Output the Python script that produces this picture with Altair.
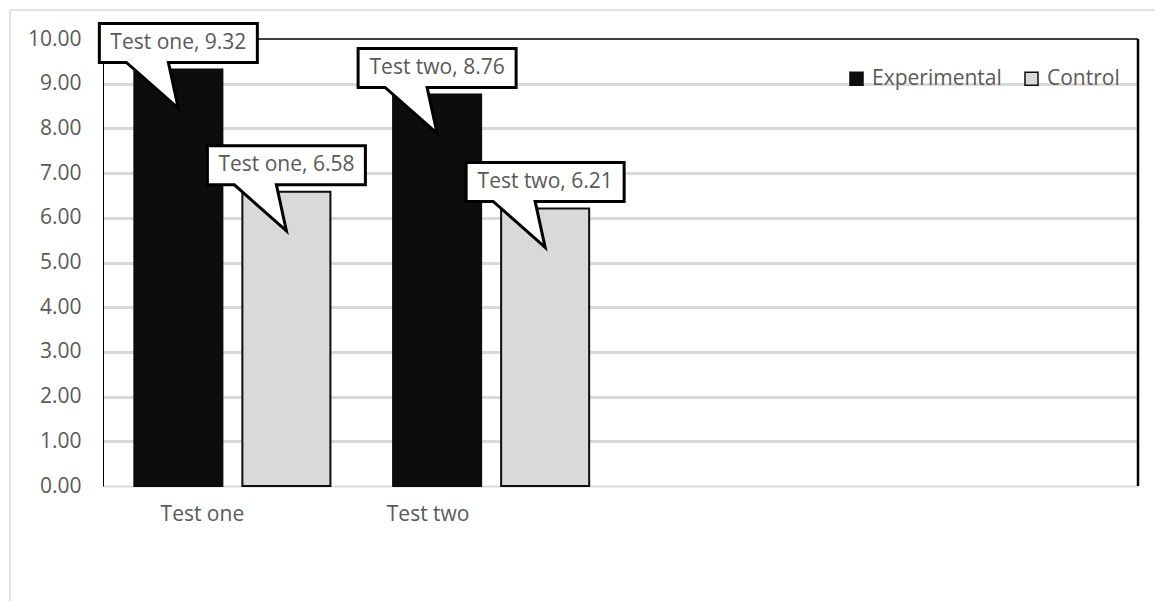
import altair as alt
import pandas as pd

categories = ["Test one", "Test one", "Test two", "Test two"]
series = ["Experimental", "Control", "Experimental", "Control"]
values = [9.32, 6.58, 8.76, 6.21]
x_domain = ["Test one", "Test two", "  ", "   "]
series_order = ["Experimental", "Control"]
series_colors = ["#0d0d0d", "#d9d9d9"]
y_ticks = [0, 1, 2, 3, 4, 5, 6, 7, 8, 9, 10]

df = pd.DataFrame({"cat": categories, "series": series, "value": values})
df["label"] = [f"{c}, {v:.2f}" for c, v in zip(categories, values)]

W, H = 1035, 447
FONT = "Open Sans"
GRAY_TXT = "#595959"
FS = 21

# callout shape (box + pointer) anchored at the bar top, pixel units (size=4 -> scale 1)
CALLOUT = "M0,39 L-10,-7 L79,-7 L79,-46 L-79,-46 L-79,-7 L-52,-7 Z"

x_enc = alt.X("cat:N", scale=alt.Scale(domain=x_domain, paddingInner=0, paddingOuter=0),
              sort=x_domain,
              axis=alt.Axis(title=None, ticks=False, labelAngle=0, labelFont=FONT, labelFontSize=FS,
                            labelColor=GRAY_TXT, labelPadding=17, labelBaseline="top",
                            domainColor="#d9d9d9", domainWidth=2,
                            labelOffset={"condition": {"test": "datum.value == 'Test one'", "value": -30},
                                         "value": -63}))
xo_enc = alt.XOffset("series:N", scale=alt.Scale(domain=series_order, paddingInner=0.185,
                                                  paddingOuter=0.29))
y_enc = alt.Y("value:Q", scale=alt.Scale(domain=[0, 10], nice=False),
              axis=alt.Axis(title=None, values=y_ticks, format=".2f", ticks=False,
                            labelFont=FONT, labelFontSize=FS, labelColor=GRAY_TXT, labelPadding=22,
                            domainColor="#000000", domainWidth=1,
                            gridColor="#d9d9d9", gridWidth=3,
                            gridOpacity={"condition": {"test": "datum.value <= 0 || datum.value >= 10", "value": 0},
                                         "value": 1}))

base = alt.Chart(df)

bars = base.mark_bar(stroke="#0d0d0d", strokeWidth=2).encode(
    x=x_enc, xOffset=xo_enc, y=y_enc,
    color=alt.Color("series:N", scale=alt.Scale(domain=series_order, range=series_colors),
                    legend=alt.Legend(title=None, orient="none", legendX=743, legendY=29,
                                      direction="horizontal", symbolType="square", symbolSize=170,
                                      symbolStrokeColor="#0d0d0d", symbolStrokeWidth=1.5,
                                      symbolOpacity=1, labelFont=FONT, labelFontSize=FS,
                                      labelColor=GRAY_TXT, labelOffset=5, columnPadding=19)),
)

callouts = base.mark_point(shape=CALLOUT, size=4, filled=True, fill="white", color="white",
                           stroke="#000000", strokeWidth=3, strokeJoin="miter",
                           opacity=1, fillOpacity=1, strokeOpacity=1).encode(
    x=x_enc, xOffset=xo_enc, y=y_enc)

labels = base.mark_text(font=FONT, fontSize=FS, color=GRAY_TXT, dy=-26.5,
                        align="center", baseline="middle").encode(
    x=x_enc, xOffset=xo_enc, y=y_enc, text="label:N")

one = pd.DataFrame({"k": [0]})
top_rule = alt.Chart(one).mark_rule(color="#000000", strokeWidth=1.5).encode(
    x=alt.value(0), x2=alt.value(W), y=alt.value(0))
right_rule = alt.Chart(one).mark_rule(color="#000000", strokeWidth=2.5).encode(
    x=alt.value(W), y=alt.value(0), y2=alt.value(H))
outer_v = alt.Chart(one).mark_rule(color="#d9d9d9", strokeWidth=1.5).encode(
    x=alt.value(-93), y=alt.value(-29), y2=alt.value(H + 115))
outer_h = alt.Chart(one).mark_rule(color="#d9d9d9", strokeWidth=1.5).encode(
    x=alt.value(-93), x2=alt.value(W + 17), y=alt.value(-29))

chart = alt.layer(outer_v, outer_h, top_rule, right_rule, bars, callouts, labels).properties(
    width=W, height=H,
    autosize=alt.AutoSizeParams(type="none"),
    padding={"left": 103, "top": 39, "right": 17, "bottom": 115},
    background="white",
).configure_view(stroke=None)

chart.save("out.html", embed_options={"renderer": "svg", "actions": False})
